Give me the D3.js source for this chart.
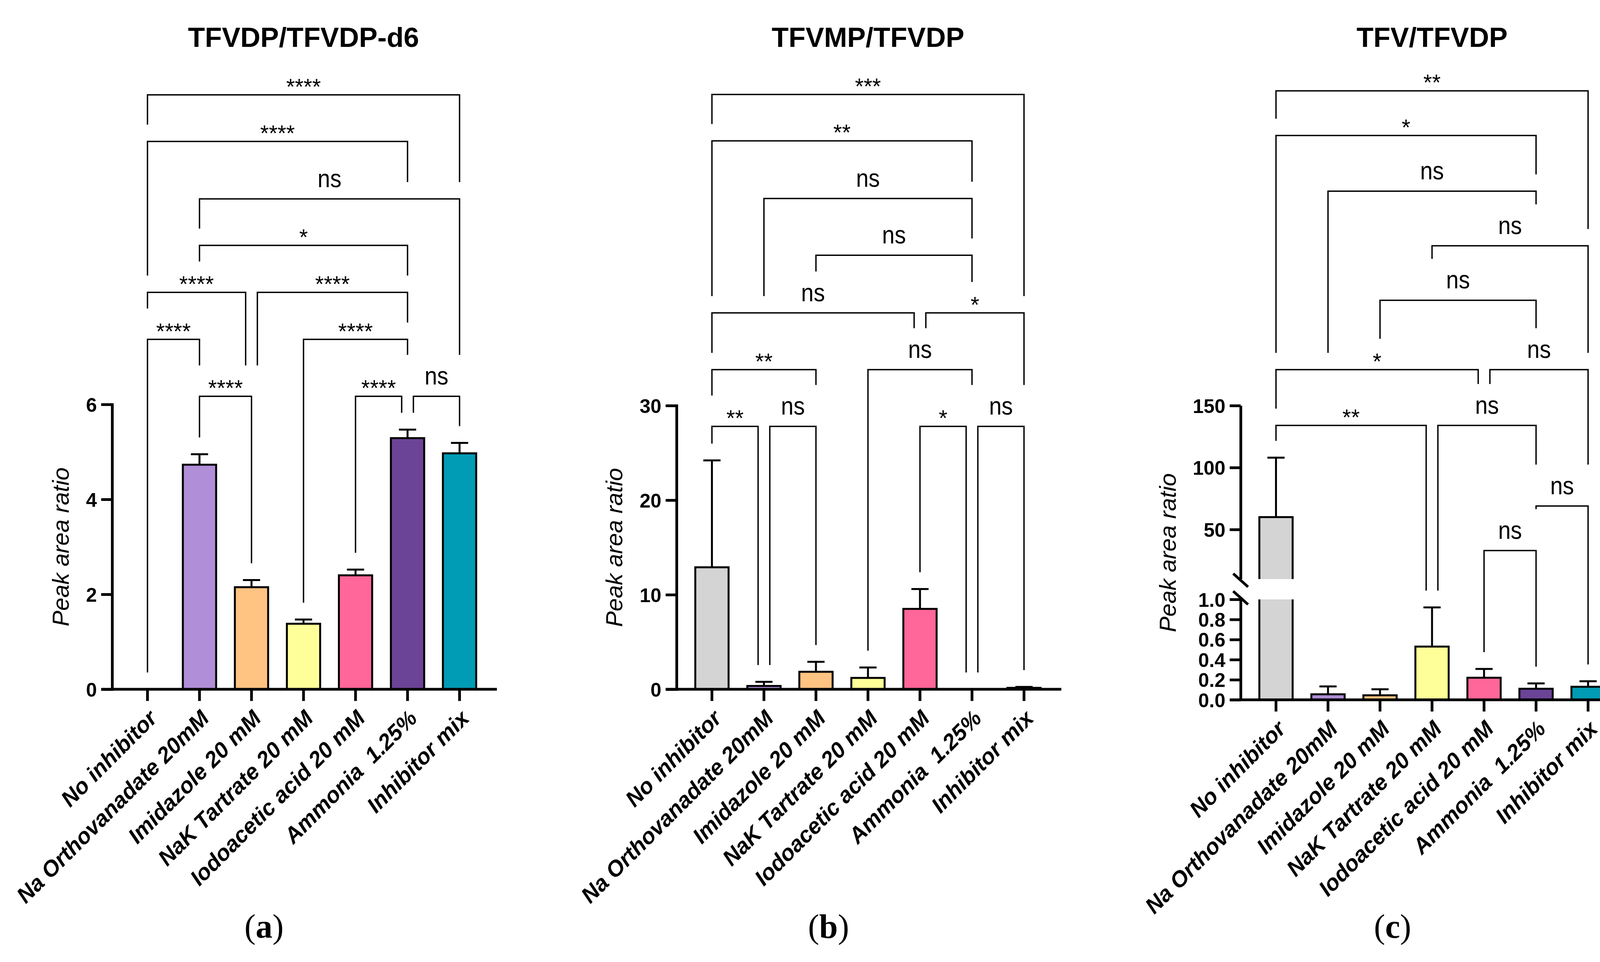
<!DOCTYPE html>
<html>
<head>
<meta charset="utf-8">
<script src="https://cdn.jsdelivr.net/npm/d3@7"></script>
<style>
  body { margin: 0; background: #fff; overflow: hidden; }
  svg { display: block; }
  text { font-family: "Liberation Sans", Arial, sans-serif; }
</style>
</head>
<body>
<svg id="chart" width="4193" height="2462"></svg>
<script>
const categories = ["No inhibitor", "Na Orthovanadate 20mM", "Imidazole 20 mM", "NaK Tartrate 20 mM",
  "Iodoacetic acid 20 mM", "Ammonia  1.25%", "Inhibitor mix"];
const colors = ["#d4d4d4", "#b08ed8", "#ffc382", "#ffff99", "#ff6699", "#6b4497", "#009bb4"];

// (a) TFVDP/TFVDP-d6
const meanA = [0, 4.73, 2.15, 1.38, 2.40, 5.29, 4.97];
const sdA = [0, 0.22, 0.15, 0.09, 0.12, 0.18, 0.22];
const ticksA = [0, 2, 4, 6];
// [from, to, label, height in y units]
const bracketsA = [
  [0, 6, "****", 12.52], [0, 5, "****", 11.54], [1, 6, "ns", 10.33], [1, 5, "*", 9.35],
  [0, 2, "****", 8.36], [2, 5, "****", 8.36], [0, 1, "****", 7.37], [3, 5, "****", 7.37],
  [1, 2, "****", 6.17], [4, 5, "****", 6.17], [5, 6, "ns", 6.17]
];

// (b) TFVMP/TFVDP
const meanB = [12.9, 0.35, 1.85, 1.2, 8.5, 0, 0.15];
const sdB = [11.3, 0.43, 1.05, 1.1, 2.1, 0, 0.1];
const ticksB = [0, 10, 20, 30];
const bracketsB = [
  [0, 6, "***", 62.9], [0, 5, "**", 58.0], [1, 5, "ns", 51.9], [2, 5, "ns", 45.9],
  [0, 4, "ns", 39.8], [4, 6, "*", 39.8], [0, 2, "**", 33.8], [3, 5, "ns", 33.8],
  [0, 1, "**", 27.8], [1, 2, "ns", 27.8], [4, 5, "*", 27.8], [5, 6, "ns", 27.8]
];

// (c) TFV/TFVDP, broken axis
const meanC = [60, 0.055, 0.045, 0.53, 0.22, 0.11, 0.13];
const sdC = [48, 0.078, 0.06, 0.39, 0.087, 0.053, 0.055];
const ticksCLow = [0, 0.2, 0.4, 0.6, 0.8, 1.0];
const ticksCHigh = [50, 100, 150];
const bracketsC = [
  [0, 6, "**", 404], [0, 5, "*", 368], [1, 5, "ns", 323], [3, 6, "ns", 279],
  [2, 5, "ns", 235], [0, 4, "*", 179], [4, 6, "ns", 179], [0, 3, "**", 134],
  [3, 5, "ns", 134], [5, 6, "ns", 69], [4, 5, "ns", 33]
];

const svg = d3.select("#chart");
const BLACK = "#000";

const yLowC = d3.scaleLinear().domain([0, 1]).range([1791, 1534]);
const yHighC = d3.scaleLinear().domain([10, 150]).range([1482, 1038]);

const panels = [
  { title: "TFVDP/TFVDP-d6", tag: "a", left: 287, mean: meanA, sd: sdA, brackets: bracketsA,
    y: d3.scaleLinear().domain([0, 6]).range([1764, 1035]), ticks: ticksA },
  { title: "TFVMP/TFVDP", tag: "b", left: 1732, mean: meanB, sd: sdB, brackets: bracketsB,
    y: d3.scaleLinear().domain([0, 30]).range([1764, 1038]), ticks: ticksB },
  { title: "TFV/TFVDP", tag: "c", left: 3176, mean: meanC, sd: sdC, brackets: bracketsC,
    y: d3.scaleLinear().domain([0, 1, 10, 150]).range([1791, 1534, 1482, 1038]), broken: true }
];

function layoutBrackets(list, xc, y, tops) {
  const items = list.map(([a, b, label, level]) => ({ a, b, label, ly: y(level),
    x1: xc(a), x2: xc(b) }));
  items.forEach(it => {
    items.forEach(o => {
      if (o === it || Math.abs(o.ly - it.ly) > 1) return;
      if (o.b === it.a) it.x1 += 15;
      if (o.a === it.b) it.x2 -= 15;
    });
    it.ns = it.label === "ns";
    it.tx = (it.x1 + it.x2) / 2;
    it.tw = it.ns ? 62 : it.label.length * 22;
    it.ttop = it.ly - (it.ns ? 63 : 36);
  });
  // a leg stops 43px above whatever lies under it: a lower bracket, its label, or the bar
  const legEnd = (it, lx, col) => {
    let ob = tops[col];
    items.forEach(o => {
      if (o.ly <= it.ly + 1) return;
      if (lx >= o.x1 - 2 && lx <= o.x2 + 2) ob = Math.min(ob, o.ly);
      if (Math.abs(lx - o.tx) < o.tw / 2 + 48) ob = Math.min(ob, o.ttop);
    });
    return ob - 43;
  };
  items.forEach(it => {
    it.e1 = legEnd(it, it.x1, it.a);
    it.e2 = legEnd(it, it.x2, it.b);
  });
  return items;
}

panels.forEach(p => {
  const g = svg.append("g");
  const x = d3.scaleBand().domain(categories).range([p.left, p.left + 980])
    .paddingInner(0.36).paddingOuter(0.36);
  const xc = i => x(categories[i]) + x.bandwidth() / 2;
  const y = p.y;
  const y0 = y(0);
  const rows = p.mean.map((m, i) => ({ i, m, s: p.sd[i] }));

  // bars
  g.selectAll("rect.bar").data(rows).join("rect")
    .attr("class", "bar")
    .attr("x", d => x(categories[d.i]))
    .attr("y", d => y(d.m))
    .attr("width", x.bandwidth())
    .attr("height", d => y0 - y(d.m))
    .attr("fill", d => colors[d.i])
    .attr("stroke", BLACK)
    .attr("stroke-width", 5);

  // error bars (upper only)
  const eb = g.selectAll("g.err").data(rows.filter(d => d.s > 0)).join("g").attr("class", "err")
    .attr("stroke", BLACK).attr("stroke-width", 5);
  eb.append("line")
    .attr("x1", d => xc(d.i)).attr("x2", d => xc(d.i))
    .attr("y1", d => y(d.m)).attr("y2", d => y(d.m + d.s));
  eb.append("line")
    .attr("x1", d => xc(d.i) - 22).attr("x2", d => xc(d.i) + 22)
    .attr("y1", d => y(d.m + d.s)).attr("y2", d => y(d.m + d.s));

  // y axis
  const styleAxis = sel => {
    sel.selectAll("path.domain").attr("stroke", BLACK).attr("stroke-width", 7)
      .attr("stroke-linecap", "square");
    sel.selectAll(".tick line").attr("stroke", BLACK).attr("stroke-width", 7);
    sel.selectAll(".tick text").attr("fill", BLACK).attr("font-size", 50)
      .attr("font-weight", "bold").attr("font-family", "'Liberation Sans', Arial, sans-serif");
  };
  const yAxisG = g.append("g").attr("transform", `translate(${p.left},0)`);
  if (p.broken) {
    // white gap across tall bars
    g.selectAll("rect.gap").data(rows.filter(d => d.m > 1)).join("rect")
      .attr("class", "gap")
      .attr("x", d => x(categories[d.i]) - 5)
      .attr("width", x.bandwidth() + 10)
      .attr("y", yHighC(10))
      .attr("height", yLowC(1) - yHighC(10))
      .attr("fill", "#fff");
    yAxisG.append("g").call(d3.axisLeft(yLowC).tickValues(ticksCLow).tickSize(28)
      .tickPadding(11).tickSizeOuter(0).tickFormat(d3.format(".1f"))).call(styleAxis);
    yAxisG.append("g").call(d3.axisLeft(yHighC).tickValues(ticksCHigh).tickSize(28)
      .tickPadding(11).tickSizeOuter(0).tickFormat(d3.format("d"))).call(styleAxis);
    yAxisG.selectAll("path.domain").attr("stroke-linecap", "butt");
    [yHighC(10) + 3, yLowC(1) - 4].forEach(cy => {
      yAxisG.append("line").attr("x1", -19).attr("x2", 19)
        .attr("y1", cy - 17).attr("y2", cy + 17)
        .attr("stroke", BLACK).attr("stroke-width", 7);
    });
  } else {
    yAxisG.call(d3.axisLeft(y).tickValues(p.ticks).tickSize(28).tickPadding(11)
      .tickSizeOuter(0).tickFormat(d3.format("d"))).call(styleAxis);
  }
  yAxisG.selectAll("text").attr("dy", "0.36em");

  // x axis
  const xAxisG = g.append("g").attr("transform", `translate(0,${y0})`);
  xAxisG.call(d3.axisBottom(x).tickSize(30).tickSizeOuter(0).tickFormat(""));
  xAxisG.select("path.domain").remove();
  xAxisG.selectAll(".tick line").attr("stroke", BLACK).attr("stroke-width", 7);
  xAxisG.append("line").attr("x1", p.left - 28).attr("x2", p.left + 985)
    .attr("stroke", BLACK).attr("stroke-width", 7);

  // category labels
  g.selectAll("text.cat").data(categories).join("text")
    .attr("class", "cat")
    .attr("transform", (d, i) => `translate(${xc(i) + 28},${y0 + 78}) rotate(-45)`)
    .attr("text-anchor", "end")
    .attr("font-size", 57)
    .attr("font-weight", "bold")
    .attr("font-style", "italic")
    .style("white-space", "pre")
    .text(d => d);

  // y axis title
  const bb = yAxisG.node().getBBox();
  const yMid = (y.range()[0] + y.range()[y.range().length - 1]) / 2;
  g.append("text")
    .attr("transform", `translate(${p.left + bb.x - 44},${yMid}) rotate(-90)`)
    .attr("text-anchor", "middle")
    .attr("font-size", 60)
    .attr("font-style", "italic")
    .text("Peak area ratio");

  // title
  g.append("text")
    .attr("x", xc(3)).attr("y", 120)
    .attr("text-anchor", "middle")
    .attr("font-size", 71)
    .attr("font-weight", "bold")
    .text(p.title);

  // significance brackets
  const tops = rows.map(d => y(d.m + d.s));
  const items = layoutBrackets(p.brackets, xc, y, tops);
  const bg = g.append("g");
  bg.selectAll("path").data(items).join("path")
    .attr("d", d => `M${d.x1},${d.e1}V${d.ly}H${d.x2}V${d.e2}`)
    .attr("fill", "none")
    .attr("stroke", BLACK)
    .attr("stroke-width", 3.5);
  bg.selectAll("text").data(items).join("text")
    .attr("x", d => d.tx)
    .attr("y", d => d.ns ? d.ly - 30 : d.ly - 1)
    .attr("text-anchor", "middle")
    .attr("font-size", d => d.ns ? 64 : 57)
    .attr("textLength", d => d.ns ? 61 : null)
    .attr("lengthAdjust", d => d.ns ? "spacingAndGlyphs" : null)
    .text(d => d.label);

  // panel tag
  const tag = g.append("text")
    .attr("x", p.left + 389).attr("y", 2400)
    .attr("text-anchor", "middle")
    .attr("font-size", 86)
    .style("font-family", "'Liberation Serif', 'Times New Roman', serif");
  tag.append("tspan").text("(");
  tag.append("tspan").attr("font-weight", "bold").text(p.tag);
  tag.append("tspan").text(")");
});
</script>
</body>
</html>
